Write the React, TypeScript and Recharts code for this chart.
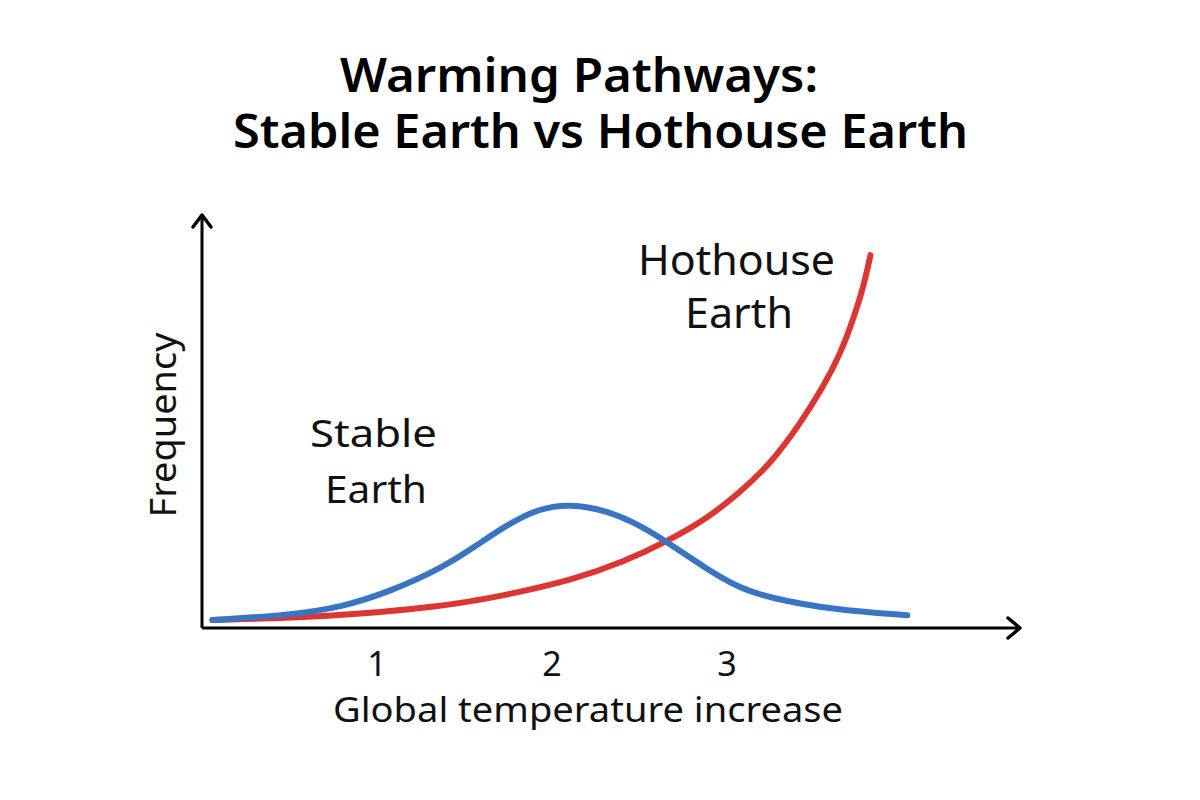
import React from "react";
import { LineChart, Line, XAxis, YAxis } from "recharts";

// Stable Earth (blue) — temperature vs frequency
const stableTemp = [0.06, 0.5, 0.8, 1.08, 1.36, 1.55, 1.74, 1.93, 2.1, 2.31, 2.5, 2.66, 2.89, 3.07, 3.24, 3.61, 4.03];
const stableFreq = [0.02, 0.032, 0.052, 0.092, 0.147, 0.2, 0.257, 0.299, 0.309, 0.294, 0.257, 0.214, 0.145, 0.1, 0.075, 0.045, 0.032];

// Hothouse Earth (red)
const hotTemp = [0.06, 0.69, 1.36, 1.74, 2.12, 2.41, 2.65, 2.89, 3.07, 3.25, 3.42, 3.55, 3.65, 3.72, 3.78, 3.82];
const hotFreq = [0.02, 0.027, 0.052, 0.082, 0.12, 0.165, 0.214, 0.274, 0.337, 0.41, 0.511, 0.601, 0.686, 0.768, 0.85, 0.93];

const xTicks = [1, 2, 3];

const stableData = stableTemp.map((t, i) => ({ t, f: stableFreq[i] }));
const hotData = hotTemp.map((t, i) => ({ t, f: hotFreq[i] }));

const W = 1200;
const H = 800;
const YAXIS_W = 2;
const XAXIS_H = 60;
const M = { top: 215, left: 202 - YAXIS_W, right: 180, bottom: 112 };
const plotLeft = M.left + YAXIS_W;
const plotRight = W - M.right;
const plotTop = M.top;
const plotBottom = H - M.bottom - XAXIS_H;
const X_MAX = (plotRight - plotLeft) / 175;
const Y_MAX = (plotBottom - plotTop) / 401;

const FONT = "'Noto Sans', 'Open Sans', sans-serif";

const Tick = (props: any) => {
  const { x, y, payload } = props;
  return (
    <text x={x} y={y + 40} textAnchor="middle" fontFamily={FONT} fontSize={34} fill="#111">
      {payload.value}
    </text>
  );
};

export default function App() {
  return (
    <div style={{ position: "absolute", left: 0, top: 0, width: W, height: H, background: "#fff" }}>
      <LineChart width={W} height={H} margin={M}>
        <XAxis
          dataKey="t"
          type="number"
          domain={[0, X_MAX]}
          ticks={xTicks}
          allowDataOverflow
          height={XAXIS_H}
          tickLine={false}
          axisLine={{ stroke: "#000", strokeWidth: 3 }}
          tick={<Tick />}
        />
        <YAxis
          type="number"
          dataKey="f"
          domain={[0, Y_MAX]}
          width={YAXIS_W}
          tick={false}
          tickLine={false}
          axisLine={{ stroke: "#000", strokeWidth: 3 }}
          allowDataOverflow
        />
        <Line
          data={hotData}
          dataKey="f"
          type="basis"
          stroke="#dc3632"
          strokeWidth={6}
          strokeLinecap="round"
          dot={false}
          activeDot={false}
          isAnimationActive={false}
        />
        <Line
          data={stableData}
          dataKey="f"
          type="basis"
          stroke="#3a75c4"
          strokeWidth={6}
          strokeLinecap="round"
          dot={false}
          activeDot={false}
          isAnimationActive={false}
        />
      </LineChart>
      <svg
        width={W}
        height={H}
        style={{ position: "absolute", left: 0, top: 0, pointerEvents: "none" }}
      >
        {/* arrowheads */}
        <polyline
          points={`${plotRight - 12},${plotBottom - 10} ${plotRight},${plotBottom} ${plotRight - 12},${plotBottom + 10}`}
          fill="none"
          stroke="#000"
          strokeWidth={3.5}
          strokeLinecap="round"
          strokeLinejoin="round"
        />
        <polyline
          points={`${plotLeft - 9},${plotTop + 12} ${plotLeft},${plotTop} ${plotLeft + 9},${plotTop + 12}`}
          fill="none"
          stroke="#000"
          strokeWidth={3.5}
          strokeLinecap="round"
          strokeLinejoin="round"
        />
        {/* title */}
        <text x={340} y={92} fontFamily={FONT} fontWeight={600} fontSize={46} fill="#000" textLength={478} lengthAdjust="spacingAndGlyphs">
          Warming Pathways:
        </text>
        <text x={233} y={148} fontFamily={FONT} fontWeight={600} fontSize={46} fill="#000" textLength={735} lengthAdjust="spacingAndGlyphs">
          Stable Earth vs Hothouse Earth
        </text>
        {/* axis titles */}
        <text x={333} y={722} fontFamily={FONT} fontSize={35} fill="#111" textLength={510} lengthAdjust="spacingAndGlyphs">
          Global temperature increase
        </text>
        <text
          x={0}
          y={0}
          transform="translate(176,425) rotate(-90)"
          textAnchor="middle"
          fontFamily={FONT}
          fontSize={36}
          fill="#111"
          textLength={185}
          lengthAdjust="spacingAndGlyphs"
        >
          Frequency
        </text>
        {/* series labels */}
        <text x={310} y={447} fontFamily={FONT} fontSize={39} fill="#111" textLength={127} lengthAdjust="spacingAndGlyphs">
          Stable
        </text>
        <text x={325} y={503} fontFamily={FONT} fontSize={39} fill="#111" textLength={102} lengthAdjust="spacingAndGlyphs">
          Earth
        </text>
        <text x={638} y={275} fontFamily={FONT} fontSize={41} fill="#111" textLength={197} lengthAdjust="spacingAndGlyphs">
          Hothouse
        </text>
        <text x={685} y={328} fontFamily={FONT} fontSize={41} fill="#111" textLength={108} lengthAdjust="spacingAndGlyphs">
          Earth
        </text>
      </svg>
    </div>
  );
}
